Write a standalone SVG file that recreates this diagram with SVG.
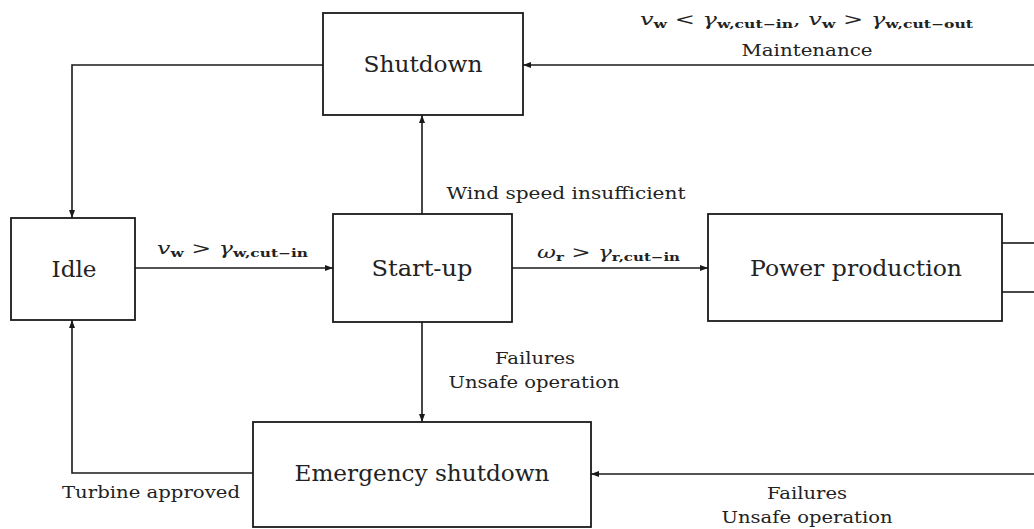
<svg xmlns="http://www.w3.org/2000/svg" width="1034" height="529" viewBox="0 0 1034 529">
  <style>
    .box { fill: #ffffff; stroke: #1a1a1a; stroke-width: 1.8; }
    .wire { fill: none; stroke: #1a1a1a; stroke-width: 1.6; }
    text { font-family: "DejaVu Serif", "Noto Serif", "Liberation Serif", serif; fill: #222; }
    .node-label { font-size: 23px; text-anchor: middle; }
    .edge-label { font-size: 17px; text-anchor: middle; }
    .math { font-size: 17px; }
    .it { font-style: italic; }
    .sub { font-size: 11px; font-weight: bold; }
  </style>
  <defs>
    <marker id="arrow" markerUnits="userSpaceOnUse" markerWidth="9" markerHeight="7" refX="8" refY="3.5" orient="auto">
      <path d="M0,0.5 L8,3.5 L0,6.5 Z" fill="#1a1a1a"/>
    </marker>
  </defs>

  <rect width="1034" height="529" fill="#ffffff"/>

  <!-- connectors -->
  <g id="connectors">
    <path class="wire" d="M1034,65 H523" marker-end="url(#arrow)"/>
    <path class="wire" d="M323,65 H72 V218" marker-end="url(#arrow)"/>
    <path class="wire" d="M135,268 H333" marker-end="url(#arrow)"/>
    <path class="wire" d="M422,214 V115" marker-end="url(#arrow)"/>
    <path class="wire" d="M512,268 H708" marker-end="url(#arrow)"/>
    <path class="wire" d="M1002,243 H1034"/>
    <path class="wire" d="M1002,292 H1034"/>
    <path class="wire" d="M422,322 V422" marker-end="url(#arrow)"/>
    <path class="wire" d="M1034,474 H591" marker-end="url(#arrow)"/>
    <path class="wire" d="M253,473 H72 V320" marker-end="url(#arrow)"/>
  </g>

  <!-- transition labels -->
  <g id="labels">
    <text class="math" x="640" y="25" textLength="333" lengthAdjust="spacingAndGlyphs"><tspan class="it">v</tspan><tspan class="sub" dy="3">w</tspan><tspan dy="-3"> &lt; </tspan><tspan class="it">γ</tspan><tspan class="sub" dy="3">w,cut−in</tspan><tspan dy="-3">, </tspan><tspan class="it">v</tspan><tspan class="sub" dy="3">w</tspan><tspan dy="-3"> &gt; </tspan><tspan class="it">γ</tspan><tspan class="sub" dy="3">w,cut−out</tspan></text>
    <text class="edge-label" x="807" y="56" textLength="131" lengthAdjust="spacingAndGlyphs">Maintenance</text>
    <text class="edge-label" x="566" y="199" textLength="239" lengthAdjust="spacingAndGlyphs">Wind speed insufficient</text>
    <text class="math" x="157" y="254" textLength="151" lengthAdjust="spacingAndGlyphs"><tspan class="it">v</tspan><tspan class="sub" dy="3">w</tspan><tspan dy="-3"> &gt; </tspan><tspan class="it">γ</tspan><tspan class="sub" dy="3">w,cut−in</tspan></text>
    <text class="math" x="537" y="258" textLength="143" lengthAdjust="spacingAndGlyphs"><tspan class="it">ω</tspan><tspan class="sub" dy="3">r</tspan><tspan dy="-3"> &gt; </tspan><tspan class="it">γ</tspan><tspan class="sub" dy="3">r,cut−in</tspan></text>
    <text class="edge-label" x="535" y="364" textLength="80" lengthAdjust="spacingAndGlyphs">Failures</text>
    <text class="edge-label" x="534" y="388" textLength="171" lengthAdjust="spacingAndGlyphs">Unsafe operation</text>
    <text class="edge-label" x="151" y="498" textLength="178" lengthAdjust="spacingAndGlyphs">Turbine approved</text>
    <text class="edge-label" x="807" y="499" textLength="80" lengthAdjust="spacingAndGlyphs">Failures</text>
    <text class="edge-label" x="807" y="523" textLength="171" lengthAdjust="spacingAndGlyphs">Unsafe operation</text>
  </g>

  <!-- states -->
  <g id="shutdown">
    <rect class="box" x="323" y="13" width="200" height="102"/>
    <text class="node-label" x="423" y="72" textLength="119" lengthAdjust="spacingAndGlyphs">Shutdown</text>
  </g>
  <g id="idle">
    <rect class="box" x="11" y="218" width="124" height="102"/>
    <text class="node-label" x="74" y="277" textLength="45" lengthAdjust="spacingAndGlyphs">Idle</text>
  </g>
  <g id="startup">
    <rect class="box" x="333" y="214" width="179" height="108"/>
    <text class="node-label" x="422" y="276" textLength="101" lengthAdjust="spacingAndGlyphs">Start-up</text>
  </g>
  <g id="power-production">
    <rect class="box" x="708" y="214" width="294" height="107"/>
    <text class="node-label" x="856" y="276" textLength="212" lengthAdjust="spacingAndGlyphs">Power production</text>
  </g>
  <g id="emergency-shutdown">
    <rect class="box" x="253" y="422" width="338" height="105"/>
    <text class="node-label" x="422" y="481" textLength="255" lengthAdjust="spacingAndGlyphs">Emergency shutdown</text>
  </g>
</svg>
